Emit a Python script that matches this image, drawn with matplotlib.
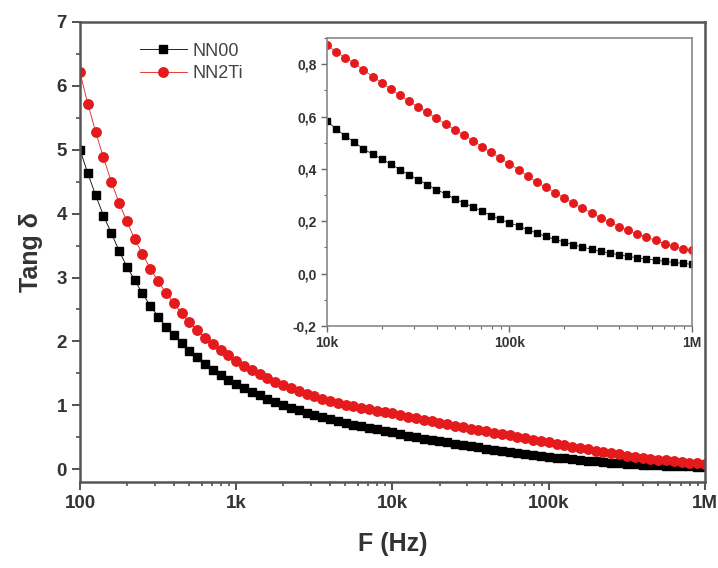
import numpy as np
import matplotlib.pyplot as plt
from matplotlib.ticker import LogLocator, NullFormatter, MultipleLocator

# measured frequency grid, 20 points per decade from 100 Hz to 1 MHz
freq = np.logspace(2, 6, 81)

# tan delta, NN00 sample
nn00 = [5.00, 4.63, 4.29, 3.97, 3.70, 3.42, 3.17, 2.96, 2.75, 2.56,
        2.39, 2.23, 2.10, 1.975, 1.855, 1.75, 1.65, 1.56, 1.48, 1.40,
        1.33, 1.27, 1.21, 1.16, 1.10, 1.05, 1.00, 0.96, 0.92, 0.88,
        0.845, 0.81, 0.78, 0.75, 0.72, 0.695, 0.67, 0.645, 0.625, 0.605,
        0.584, 0.552, 0.527, 0.502, 0.476, 0.457, 0.438, 0.419, 0.397, 0.378,
        0.359, 0.340, 0.321, 0.305, 0.286, 0.270, 0.254, 0.239, 0.222, 0.207,
        0.194, 0.182, 0.168, 0.155, 0.142, 0.131, 0.121, 0.110, 0.102, 0.093,
        0.085, 0.079, 0.072, 0.066, 0.061, 0.056, 0.052, 0.047, 0.043, 0.039,
        0.036]

# tan delta, NN2Ti sample
nn2ti = [6.21, 5.72, 5.28, 4.88, 4.50, 4.17, 3.88, 3.60, 3.37, 3.14,
         2.94, 2.76, 2.60, 2.44, 2.30, 2.18, 2.06, 1.96, 1.86, 1.78,
         1.70, 1.62, 1.555, 1.49, 1.43, 1.37, 1.32, 1.27, 1.225, 1.18,
         1.14, 1.10, 1.07, 1.04, 1.01, 0.985, 0.96, 0.94, 0.915, 0.895,
         0.874, 0.847, 0.825, 0.804, 0.778, 0.753, 0.730, 0.705, 0.681, 0.658,
         0.637, 0.616, 0.593, 0.571, 0.550, 0.530, 0.508, 0.485, 0.463, 0.441,
         0.419, 0.397, 0.372, 0.349, 0.330, 0.309, 0.290, 0.269, 0.250, 0.232,
         0.213, 0.197, 0.180, 0.165, 0.152, 0.140, 0.127, 0.114, 0.104, 0.095,
         0.089]

main_xticks = [1e2, 1e3, 1e4, 1e5, 1e6]
main_xlabels = ['100', '1k', '10k', '100k', '1M']
inset_xticks = [1e4, 1e5, 1e6]
inset_xlabels = ['10k', '100k', '1M']
inset_yticks = [-0.2, 0.0, 0.2, 0.4, 0.6, 0.8]
inset_ylabels = ['-0,2', '0,0', '0,2', '0,4', '0,6', '0,8']

plt.rcParams['font.family'] = ['Liberation Sans', 'DejaVu Sans']

red = '#e41a1c'

fig = plt.figure(figsize=(7.18, 5.68), dpi=100)
ax = fig.add_axes([0.1114, 0.1514, 0.8705, 0.81])

ax.plot(freq, nn00, '-s', color='black', ms=5.8, lw=0.6, label='NN00')
ax.plot(freq, nn2ti, '-o', color=red, ms=6.8, lw=0.6, label='NN2Ti')

ax.set_xscale('log')
ax.set_xlim(1e2, 1e6)
ax.set_ylim(-0.2, 7)
ax.set_xticks(main_xticks)
ax.set_xticklabels(main_xlabels)
ax.xaxis.set_minor_locator(LogLocator(base=10, subs=np.arange(2, 10)))
ax.xaxis.set_minor_formatter(NullFormatter())
ax.yaxis.set_major_locator(MultipleLocator(1))
ax.yaxis.set_minor_locator(MultipleLocator(0.5))
ax.tick_params(which='major', direction='out', length=6, width=1.3,
               labelsize=13.5, color='#444444')
ax.tick_params(which='minor', direction='out', length=3, width=1.1, color='#444444')
for lab in ax.get_xticklabels() + ax.get_yticklabels():
    lab.set_fontweight('bold')
    lab.set_color('#333333')
for s in ax.spines.values():
    s.set_linewidth(1.8)
    s.set_color('#555555')

ax.set_xlabel('F (Hz)', fontsize=18, fontweight='bold', color='#333333', labelpad=14)
ax.set_ylabel('Tang δ', fontsize=18, fontweight='bold', color='#333333', labelpad=10)

leg = ax.legend(loc='upper left', bbox_to_anchor=(0.07, 0.99), frameon=False,
                fontsize=13, handlelength=2.6, handletextpad=0.3, labelspacing=0.3)
for t in leg.get_texts():
    t.set_color('#444444')

# inset: zoom on 10k - 1M
ins = fig.add_axes([0.4554, 0.426, 0.5084, 0.507])
ins.plot(freq[40:], nn00[40:], '-s', color='black', ms=4.6, lw=0.5)
ins.plot(freq[40:], nn2ti[40:], '-o', color=red, ms=5.4, lw=0.5)
ins.set_xscale('log')
ins.set_xlim(1e4, 1e6)
ins.set_ylim(-0.2, 0.9)
ins.set_xticks(inset_xticks)
ins.set_xticklabels(inset_xlabels)
ins.set_yticks(inset_yticks)
ins.set_yticklabels(inset_ylabels)
ins.xaxis.set_minor_locator(LogLocator(base=10, subs=np.arange(2, 10)))
ins.xaxis.set_minor_formatter(NullFormatter())
ins.yaxis.set_minor_locator(MultipleLocator(0.1))
ins.tick_params(which='major', direction='out', length=4, width=1, labelsize=10,
                color='#666666')
ins.tick_params(which='minor', direction='out', length=2, width=0.8, color='#666666')
for lab in ins.get_xticklabels() + ins.get_yticklabels():
    lab.set_fontweight('bold')
    lab.set_color('#333333')
for s in ins.spines.values():
    s.set_linewidth(1.2)
    s.set_color('#888888')

fig.savefig('out.png', dpi=100)
